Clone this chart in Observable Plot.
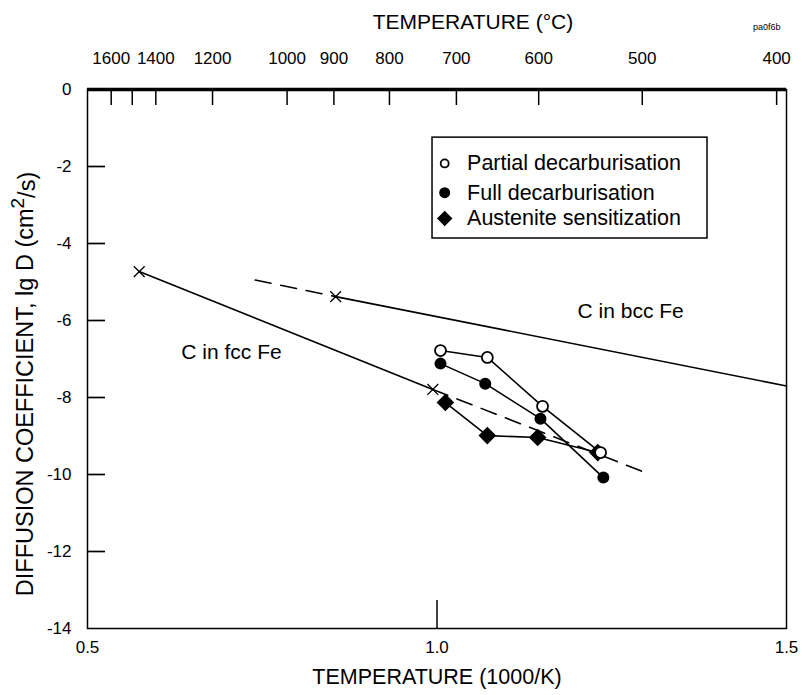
<!DOCTYPE html>
<html><head><meta charset="utf-8">
<script src="https://cdn.jsdelivr.net/npm/d3@7"></script>
<script src="https://cdn.jsdelivr.net/npm/@observablehq/plot@0.6"></script>
<style>
body{margin:0;background:#fff;}
</style></head><body><div id="chart"></div>
<script>
// ---- data ----
const partialX = [1.005, 1.072, 1.151, 1.234];
const partialY = [-6.78, -6.96, -8.23, -9.43];
const fullX = [1.005, 1.069, 1.148, 1.238];
const fullY = [-7.12, -7.64, -8.55, -10.08];
const austX = [1.012, 1.072, 1.144, 1.230];
const austY = [-8.13, -8.99, -9.04, -9.43];

const fccSolidX = [0.574, 0.994];
const fccSolidY = [-4.73, -7.79];
const fccDashX = [0.994, 1.295];
const fccDashY = [-7.79, -9.93];
const bccDashX = [0.740, 0.855];
const bccDashY = [-4.95, -5.38];
const bccSolidX = [0.855, 1.5];
const bccSolidY = [-5.38, -7.70];
const crossX = [0.574, 0.994, 0.855];
const crossY = [-4.73, -7.79, -5.38];

const yTicks = [0, -2, -4, -6, -8, -10, -12, -14];
const xTicks = [0.5, 1.0, 1.5];
const tempC = [1600, 1400, 1200, 1000, 900, 800, 700, 600, 500, 400];
const tempTicks = [1600, 1500, 1400, 1200, 1000, 900, 800, 700, 600, 500, 400];
const seriesNames = ["Partial decarburisation", "Full decarburisation", "Austenite sensitization"];
const curveLabels = ["C in fcc Fe", "C in bcc Fe"];

// ---- layout (not data) ----
const legendBox = {x1: 0.9936, x2: 1.387, y1: -1.25, y2: -3.87};
const legendSymX = 1.011, legendTextX = 1.043;
const legendRowY = [-1.92, -2.68, -3.35];
const curveLabelPos = [[0.706, -6.83], [1.277, -5.77]];

const pts = (xs, ys) => xs.map((x, i) => ({x, y: ys[i]}));
const invK = c => 1000 / (c + 273);
const lw = 1.6;
const wordSize = 21.5;

const plot = Plot.plot({
  width: 802, height: 695,
  marginLeft: 87, marginRight: 16, marginTop: 89, marginBottom: 67,
  x: {domain: [0.5, 1.5]},
  y: {domain: [-14, 0]},
  style: {fontFamily: "'Liberation Sans', Arial, sans-serif", fontSize: "17px", color: "black", background: "white"},
  marks: [
    Plot.frame({stroke: "black", strokeWidth: 1.5}),
    Plot.ruleY([0], {stroke: "black", strokeWidth: 3.5}),
    // left axis
    Plot.axisY(yTicks.filter(d => d !== 0 && d !== -14), {anchor: "left", tickSize: -18, tickFormat: () => "", strokeWidth: 1.7, label: null}),
    Plot.axisY(yTicks, {anchor: "left", tickSize: 0, tickPadding: 16, tickFormat: d => String(d), fontSize: 17, label: null}),
    // bottom axis
    Plot.axisX([1.0], {anchor: "bottom", tickSize: -28, tickFormat: () => "", strokeWidth: 1.5, label: null}),
    Plot.axisX(xTicks, {anchor: "bottom", tickSize: 0, tickPadding: 12, tickFormat: d3.format(".1f"), fontSize: 17, label: null}),
    // top axis (°C)
    Plot.axisX(tempTicks.map(invK), {anchor: "top", tickSize: -15, tickFormat: () => "", strokeWidth: 1.5, label: null}),
    Plot.text(tempC, {x: invK, frameAnchor: "top", lineAnchor: "middle", dy: -31, text: d => String(d), fontSize: 17}),
    // titles
    Plot.text(["TEMPERATURE (°C)"], {frameAnchor: "top", lineAnchor: "middle", dx: 36, dy: -67, fontSize: 21}),
    Plot.text(["pa0f6b"], {frameAnchor: "top-right", lineAnchor: "middle", textAnchor: "end", dx: -6, dy: -62, fontSize: 9}),
    Plot.text(["TEMPERATURE (1000/K)"], {frameAnchor: "bottom", lineAnchor: "middle", dy: 49, fontSize: 21.5}),
    Plot.text(["DIFFUSION COEFFICIENT, lg D (cm²/s)"], {frameAnchor: "left", textAnchor: "middle", lineAnchor: "middle", dx: -62, dy: 25, rotate: -90, fontSize: 23.5}),
    // reference lines
    Plot.line(pts(fccSolidX, fccSolidY), {x: "x", y: "y", stroke: "black", strokeWidth: lw}),
    Plot.line(pts(fccDashX, fccDashY), {x: "x", y: "y", stroke: "black", strokeWidth: lw, strokeDasharray: "16,10"}),
    Plot.line(pts(bccDashX, bccDashY), {x: "x", y: "y", stroke: "black", strokeWidth: lw, strokeDasharray: "16,10"}),
    Plot.line(pts(bccSolidX, bccSolidY), {x: "x", y: "y", stroke: "black", strokeWidth: lw}),
    Plot.dot(pts(crossX, crossY), {x: "x", y: "y", symbol: "times", r: 5, stroke: "black", strokeWidth: 1.3}),
    Plot.text(curveLabels, {x: (d, i) => curveLabelPos[i][0], y: (d, i) => curveLabelPos[i][1], fontSize: 21}),
    // data series
    Plot.line(pts(partialX, partialY), {x: "x", y: "y", stroke: "black", strokeWidth: lw}),
    Plot.line(pts(fullX, fullY), {x: "x", y: "y", stroke: "black", strokeWidth: lw}),
    Plot.line(pts(austX, austY), {x: "x", y: "y", stroke: "black", strokeWidth: lw}),
    Plot.dot(pts(fullX, fullY), {x: "x", y: "y", symbol: "circle", r: 6, fill: "black"}),
    Plot.dot(pts(austX, austY), {x: "x", y: "y", symbol: "diamond2", r: 7, fill: "black", stroke: "black"}),
    Plot.dot(pts(partialX, partialY), {x: "x", y: "y", symbol: "circle", r: 5.5, fill: "white", stroke: "black", strokeWidth: 1.8}),
    // legend
    Plot.rect([legendBox], {x1: "x1", x2: "x2", y1: "y1", y2: "y2", fill: "white", stroke: "black", strokeWidth: 1.5}),
    Plot.dot([0], {x: legendSymX, y: legendRowY[0], symbol: "circle", r: 4, fill: "white", stroke: "black", strokeWidth: 1.8}),
    Plot.dot([0], {x: legendSymX, y: legendRowY[1], symbol: "circle", r: 5.5, fill: "black"}),
    Plot.dot([0], {x: legendSymX, y: legendRowY[2], symbol: "diamond2", r: 6, fill: "black", stroke: "black"}),
    Plot.text(seriesNames, {x: legendTextX, y: (d, i) => legendRowY[i], textAnchor: "start", fontSize: wordSize})
  ]
});

// superscript 2 in the y label
d3.select(plot).selectAll("text").each(function () {
  const t = this.textContent;
  if (this.childElementCount === 0 && t.includes("cm²/s")) {
    const [a, b] = t.split("²");
    const sel = d3.select(this);
    sel.text(null);
    sel.append("tspan").text(a);
    sel.append("tspan").attr("dy", "-0.5em").attr("font-size", "19px").text("2");
    sel.append("tspan").attr("dy", "0.5em").text(b);
  }
});
document.getElementById("chart").appendChild(plot);
</script></body></html>
